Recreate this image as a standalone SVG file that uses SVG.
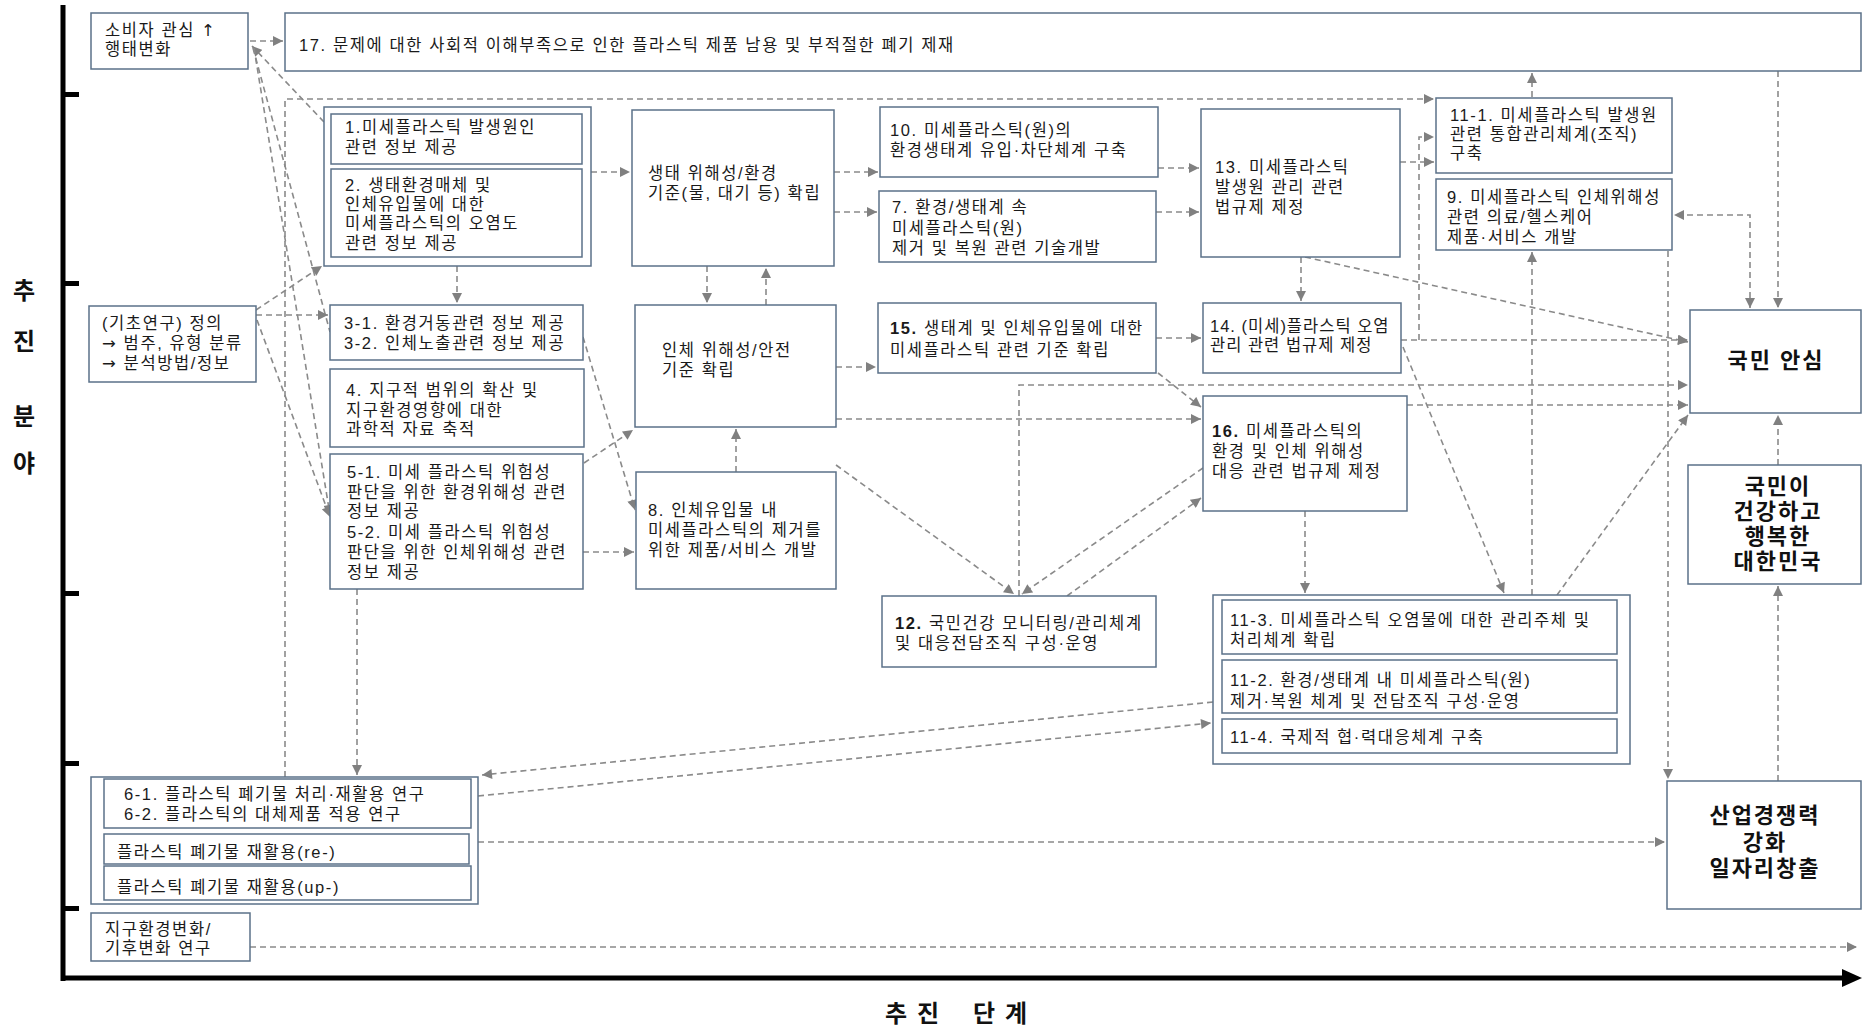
<svg xmlns="http://www.w3.org/2000/svg" width="1862" height="1033" viewBox="0 0 1862 1033">
<defs>
<style>
.box{fill:#fff;stroke:#5b7189;stroke-width:1.5}
.t{font-family:"Liberation Sans","Noto Sans CJK KR",sans-serif;font-size:16.5px;letter-spacing:1.6px;fill:#1a1a1a}
.tb{font-weight:bold}
.ar{font-family:"DejaVu Sans",sans-serif}
.big{font-family:"Liberation Sans","Noto Sans CJK KR",sans-serif;font-size:22px;letter-spacing:2px;font-weight:bold;fill:#111;text-anchor:middle}
.ax{font-family:"Liberation Sans","Noto Sans CJK KR",sans-serif;font-size:24px;font-weight:bold;fill:#111;text-anchor:middle}
.c{fill:none;stroke:#8a8a8a;stroke-width:1.6;stroke-dasharray:6 4}
</style>
<marker id="ah" viewBox="0 0 10 10" refX="10" refY="5" markerWidth="11" markerHeight="10" markerUnits="userSpaceOnUse" orient="auto-start-reverse">
<path d="M0,0 L10,5 L0,10 z" fill="#808080"/>
</marker>
</defs>
<rect width="1862" height="1033" fill="#fff"/>

<g id="axes">
<line x1="63" y1="5" x2="63" y2="981" stroke="#000" stroke-width="5"/>
<rect x="63" y="92" width="16" height="5" fill="#000"/>
<rect x="63" y="281" width="16" height="5" fill="#000"/>
<rect x="63" y="591" width="16" height="5" fill="#000"/>
<rect x="63" y="761" width="16" height="5" fill="#000"/>
<rect x="63" y="906" width="16" height="5" fill="#000"/>
<line x1="61" y1="978" x2="1846" y2="978" stroke="#000" stroke-width="5"/>
<polygon points="1842,969 1862,978 1842,987" fill="#000"/>
<text class="ax"><tspan x="24" y="299">추</tspan><tspan x="24" y="350">진</tspan><tspan x="24" y="425">분</tspan><tspan x="24" y="472">야</tspan></text>
<text class="ax" x="885 917 973 1005" y="1022" style="text-anchor:start">추진단계</text>
</g>

<g id="connectors">
<path class="c" d="M250,41 H283" marker-end="url(#ah)"/>
<path class="c" d="M285,777 V99 H1434" marker-end="url(#ah)"/>
<path class="c" d="M324,122 L252,46" marker-end="url(#ah)"/>
<path class="c" d="M253,48 L330,332"/>
<path class="c" d="M254,48 L330,515" marker-end="url(#ah)"/>
<path class="c" d="M256,310 L322,266" marker-end="url(#ah)"/>
<path class="c" d="M256,315 H328" marker-end="url(#ah)"/>
<path class="c" d="M257,320 L330,517" marker-end="url(#ah)"/>
<path class="c" d="M591,172 H630" marker-end="url(#ah)"/>
<path class="c" d="M457,266 V303" marker-end="url(#ah)"/>
<path class="c" d="M834,172 H878" marker-end="url(#ah)"/>
<path class="c" d="M834,212 H877" marker-end="url(#ah)"/>
<path class="c" d="M1158,168 H1199" marker-end="url(#ah)"/>
<path class="c" d="M1156,212 H1199" marker-end="url(#ah)"/>
<path class="c" d="M1400,162 H1434" marker-end="url(#ah)"/>
<path class="c" d="M1532,97 V73" marker-end="url(#ah)"/>
<path class="c" d="M1778,71 V308" marker-end="url(#ah)"/>
<path class="c" d="M1750,308 V215 H1674" marker-start="url(#ah)" marker-end="url(#ah)"/>
<path class="c" d="M1668,251 V779" marker-end="url(#ah)"/>
<path class="c" d="M1301,257 V301" marker-end="url(#ah)"/>
<path class="c" d="M1305,257 L1688,342" marker-end="url(#ah)"/>
<path class="c" d="M1401,340 H1688" marker-end="url(#ah)"/>
<path class="c" d="M1419,340 V137 H1434" marker-end="url(#ah)"/>
<path class="c" d="M1532,595 V252" marker-end="url(#ah)"/>
<path class="c" d="M1403,347 L1504,593" marker-end="url(#ah)"/>
<path class="c" d="M1305,511 V593" marker-end="url(#ah)"/>
<path class="c" d="M1557,595 L1688,415" marker-end="url(#ah)"/>
<path class="c" d="M1407,405 H1688" marker-end="url(#ah)"/>
<path class="c" d="M1019,596 V385 H1688" marker-end="url(#ah)"/>
<path class="c" d="M1778,465 V415" marker-end="url(#ah)"/>
<path class="c" d="M1778,781 V586" marker-end="url(#ah)"/>
<path class="c" d="M707,266 V303" marker-end="url(#ah)"/>
<path class="c" d="M766,305 V268" marker-end="url(#ah)"/>
<path class="c" d="M836,367 H876" marker-end="url(#ah)"/>
<path class="c" d="M836,419 H1201" marker-end="url(#ah)"/>
<path class="c" d="M1156,338 H1201" marker-end="url(#ah)"/>
<path class="c" d="M1158,373 L1201,407" marker-end="url(#ah)"/>
<path class="c" d="M736,472 V429" marker-end="url(#ah)"/>
<path class="c" d="M584,463 L633,430" marker-end="url(#ah)"/>
<path class="c" d="M583,337 L635,510" marker-end="url(#ah)"/>
<path class="c" d="M583,552 H634" marker-end="url(#ah)"/>
<path class="c" d="M836,465 L1014,594" marker-end="url(#ah)"/>
<path class="c" d="M1203,468 L1022,594" marker-end="url(#ah)"/>
<path class="c" d="M1067,596 L1201,498" marker-end="url(#ah)"/>
<path class="c" d="M357,589 V775" marker-end="url(#ah)"/>
<path class="c" d="M1213,702 L482,775" marker-end="url(#ah)"/>
<path class="c" d="M478,796 L1211,723" marker-end="url(#ah)"/>
<path class="c" d="M478,842 H1665" marker-end="url(#ah)"/>
<path class="c" d="M250,947 H1857" marker-end="url(#ah)"/>
</g>

<g id="n-consumer"><rect class="box" x="91" y="13" width="157" height="56"/>
<text class="t"><tspan x="105" y="36">소비자 관심 <tspan class="ar">↑</tspan></tspan><tspan x="105" y="55">행태변화</tspan></text></g>

<g id="n17"><rect class="box" x="285" y="13" width="1576" height="58"/>
<text class="t" x="299" y="51">17. 문제에 대한 사회적 이해부족으로 인한 플라스틱 제품 남용 및 부적절한 폐기 제재</text></g>

<g id="n1-2"><rect class="box" x="324" y="107" width="267" height="159"/>
<rect class="box" x="331" y="114" width="251" height="50"/>
<text class="t"><tspan x="345" y="133">1.미세플라스틱 발생원인</tspan><tspan x="345" y="153">관련 정보 제공</tspan></text>
<rect class="box" x="331" y="169" width="251" height="88"/>
<text class="t"><tspan x="345" y="191">2. 생태환경매체 및</tspan><tspan x="345" y="210">인체유입물에 대한</tspan><tspan x="345" y="229">미세플라스틱의 오염도</tspan><tspan x="345" y="249">관련 정보 제공</tspan></text></g>

<g id="n-eco"><rect class="box" x="632" y="110" width="202" height="156"/>
<text class="t"><tspan x="648" y="179">생태 위해성/환경</tspan><tspan x="648" y="199">기준(물, 대기 등) 확립</tspan></text></g>

<g id="n10"><rect class="box" x="880" y="107" width="278" height="70"/>
<text class="t"><tspan x="890" y="136">10. 미세플라스틱(원)의</tspan><tspan x="890" y="156">환경생태계 유입·차단체계 구축</tspan></text></g>

<g id="n7"><rect class="box" x="879" y="191" width="277" height="71"/>
<text class="t"><tspan x="892" y="213">7. 환경/생태계 속</tspan><tspan x="892" y="234">미세플라스틱(원)</tspan><tspan x="892" y="254">제거 및 복원 관련 기술개발</tspan></text></g>

<g id="n13"><rect class="box" x="1201" y="109" width="199" height="148"/>
<text class="t"><tspan x="1215" y="173">13. 미세플라스틱</tspan><tspan x="1215" y="193">발생원 관리 관련</tspan><tspan x="1215" y="213">법규제 제정</tspan></text></g>

<g id="n11-1"><rect class="box" x="1436" y="98" width="236" height="75"/>
<text class="t"><tspan x="1450" y="121">11-1. 미세플라스틱 발생원</tspan><tspan x="1450" y="140">관련 통합관리체계(조직)</tspan><tspan x="1450" y="159">구축</tspan></text></g>

<g id="n9"><rect class="box" x="1436" y="179" width="236" height="71"/>
<text class="t"><tspan x="1447" y="203">9. 미세플라스틱 인체위해성</tspan><tspan x="1447" y="223">관련 의료/헬스케어</tspan><tspan x="1447" y="243">제품·서비스 개발</tspan></text></g>

<g id="n-basic"><rect class="box" x="89" y="306" width="167" height="76"/>
<text class="t"><tspan x="102" y="329">(기초연구) 정의</tspan><tspan x="102" y="349"><tspan class="ar">→</tspan> 범주, 유형 분류</tspan><tspan x="102" y="369"><tspan class="ar">→</tspan> 분석방법/정보</tspan></text></g>

<g id="n3"><rect class="box" x="330" y="305" width="253" height="55"/>
<text class="t"><tspan x="344" y="329">3-1. 환경거동관련 정보 제공</tspan><tspan x="344" y="349">3-2. 인체노출관련 정보 제공</tspan></text></g>

<g id="n4"><rect class="box" x="330" y="369" width="254" height="78"/>
<text class="t"><tspan x="346" y="396">4. 지구적 범위의 확산 및</tspan><tspan x="346" y="416">지구환경영향에 대한</tspan><tspan x="346" y="435">과학적 자료 축적</tspan></text></g>

<g id="n5"><rect class="box" x="330" y="454" width="253" height="135"/>
<text class="t"><tspan x="347" y="478">5-1. 미세 플라스틱 위험성</tspan><tspan x="347" y="498">판단을 위한 환경위해성 관련</tspan><tspan x="347" y="517">정보 제공</tspan><tspan x="347" y="538">5-2. 미세 플라스틱 위험성</tspan><tspan x="347" y="558">판단을 위한 인체위해성 관련</tspan><tspan x="347" y="578">정보 제공</tspan></text></g>

<g id="n-human"><rect class="box" x="635" y="305" width="201" height="122"/>
<text class="t"><tspan x="662" y="356">인체 위해성/안전</tspan><tspan x="662" y="376">기준 확립</tspan></text></g>

<g id="n15"><rect class="box" x="878" y="303" width="278" height="70"/>
<text class="t"><tspan x="890" y="334"><tspan class="tb">15.</tspan> 생태계 및 인체유입물에 대한</tspan><tspan x="890" y="356">미세플라스틱 관련 기준 확립</tspan></text></g>

<g id="n14"><rect class="box" x="1203" y="303" width="198" height="70"/>
<text class="t" style="letter-spacing:1px"><tspan x="1210" y="332">14. (미세)플라스틱 오염</tspan><tspan x="1210" y="351">관리 관련 법규제 제정</tspan></text></g>

<g id="n16"><rect class="box" x="1203" y="396" width="204" height="115"/>
<text class="t"><tspan x="1212" y="437"><tspan class="tb">16.</tspan> 미세플라스틱의</tspan><tspan x="1212" y="457">환경 및 인체 위해성</tspan><tspan x="1212" y="477">대응 관련 법규제 제정</tspan></text></g>

<g id="n8"><rect class="box" x="636" y="472" width="200" height="117"/>
<text class="t"><tspan x="648" y="516">8. 인체유입물 내</tspan><tspan x="648" y="536">미세플라스틱의 제거를</tspan><tspan x="648" y="556">위한 제품/서비스 개발</tspan></text></g>

<g id="n12"><rect class="box" x="882" y="596" width="274" height="71"/>
<text class="t"><tspan x="895" y="629"><tspan class="tb">12.</tspan> 국민건강 모니터링/관리체계</tspan><tspan x="895" y="649">및 대응전담조직 구성·운영</tspan></text></g>

<g id="n11"><rect class="box" x="1213" y="595" width="417" height="169"/>
<rect class="box" x="1222" y="600" width="395" height="54"/>
<text class="t"><tspan x="1230" y="626">11-3. 미세플라스틱 오염물에 대한 관리주체 및</tspan><tspan x="1230" y="646">처리체계 확립</tspan></text>
<rect class="box" x="1222" y="660" width="395" height="53"/>
<text class="t"><tspan x="1230" y="686">11-2. 환경/생태계 내 미세플라스틱(원)</tspan><tspan x="1230" y="707">제거·복원 체계 및 전담조직 구성·운영</tspan></text>
<rect class="box" x="1222" y="719" width="395" height="34"/>
<text class="t" x="1230" y="743">11-4. 국제적 협·력대응체계 구축</text></g>

<g id="n6"><rect class="box" x="91" y="777" width="387" height="127"/>
<rect class="box" x="104" y="779" width="367" height="49"/>
<text class="t"><tspan x="124" y="800">6-1. 플라스틱 폐기물 처리·재활용 연구</tspan><tspan x="124" y="820">6-2. 플라스틱의 대체제품 적용 연구</tspan></text>
<rect class="box" x="104" y="834" width="365" height="30"/>
<text class="t" x="117" y="858">플라스틱 폐기물 재활용(re-)</text>
<rect class="box" x="104" y="866" width="367" height="34"/>
<text class="t" x="117" y="893">플라스틱 폐기물 재활용(up-)</text></g>

<g id="n-climate"><rect class="box" x="91" y="913" width="159" height="48"/>
<text class="t"><tspan x="105" y="935">지구환경변화/</tspan><tspan x="105" y="954">기후변화 연구</tspan></text></g>

<g id="n-relief"><rect class="box" x="1690" y="310" width="171" height="103"/>
<text class="big" x="1776" y="368">국민 안심</text></g>

<g id="n-korea"><rect class="box" x="1688" y="465" width="173" height="119"/>
<text class="big"><tspan x="1778" y="494">국민이</tspan><tspan x="1778" y="519">건강하고</tspan><tspan x="1778" y="544">행복한</tspan><tspan x="1778" y="569">대한민국</tspan></text></g>

<g id="n-industry"><rect class="box" x="1667" y="781" width="194" height="128"/>
<text class="big"><tspan x="1765" y="823">산업경쟁력</tspan><tspan x="1765" y="850">강화</tspan><tspan x="1765" y="876">일자리창출</tspan></text></g>
</svg>
